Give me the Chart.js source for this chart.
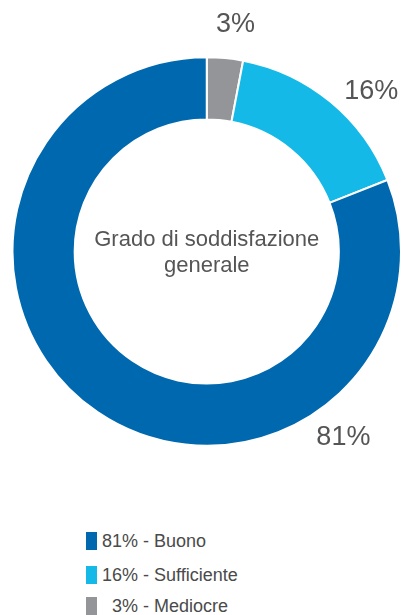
<!DOCTYPE html>
<html>
<head>
<meta charset="utf-8">
<script src="https://cdn.jsdelivr.net/npm/chart.js@4/dist/chart.umd.min.js"></script>
<style>
  body { margin: 0; background: #fff; font-family: "Liberation Sans", Arial, sans-serif; }
  #wrap { position: relative; width: 402px; height: 615px; overflow: hidden; }
  #legend { position: absolute; left: 86px; top: 532px; }
  .row { display: flex; align-items: center; height: 18px; margin-bottom: 16px; color: #4a4a4a; font-size: 18px; }
  .row:nth-child(2) { margin-bottom: 13px; }
  .box { width: 11px; height: 18px; margin-right: 4px; }
  .pct { display: inline-block; width: 37px; text-align: right; }
</style>
</head>
<body>
<div id="wrap">
  <canvas id="chart" width="402" height="480"></canvas>
  <div id="legend"></div>
</div>
<script>
// clockwise from the top
const categories = ['Mediocre', 'Sufficiente', 'Buono']
const values = [3, 16, 81]
const colors = ['#939598', '#14b9e8', '#0068af']
const centerText = ['Grado di soddisfazione', 'generale']

const ctx = document.getElementById('chart')

// percent labels outside the ring, angle in degrees from the top
const labelAngles = [7.2, 45.6, 143.6]
const outsideLabels = {
  id: 'outsideLabels',
  afterDraw(chart) {
    const c = chart.ctx
    const arcs = chart.getDatasetMeta(0).data
    c.save()
    c.fillStyle = '#555'
    c.font = '27px "Liberation Sans", Arial, sans-serif'
    c.textAlign = 'center'
    c.textBaseline = 'middle'
    arcs.forEach((arc, i) => {
      const a = labelAngles[i] * Math.PI / 180
      const r = arc.outerRadius + 36
      c.fillText(values[i] + '%', arc.x + Math.sin(a) * r, arc.y - Math.cos(a) * r + 1)
    })
    // centre text
    const a0 = arcs[0]
    c.font = '22px "Liberation Sans", Arial, sans-serif'
    c.fillText(centerText[0], a0.x, a0.y - 12)
    c.fillText(centerText[1], a0.x, a0.y + 14)
    c.restore()
  }
}

var myChart = new Chart(ctx, {
  type: 'doughnut',
  data: {
    labels: categories,
    datasets: [{
      data: values,
      backgroundColor: colors,
      borderColor: '#fff',
      borderWidth: 2
    }]
  },
  options: {
    responsive: false,
    animation: false,
    cutout: '68%',
    layout: { padding: { left: 11.5, right: 0, top: 56, bottom: 33 } },
    plugins: {
      legend: { display: false },
      tooltip: { enabled: false }
    }
  },
  plugins: [outsideLabels]
})

// legend, largest first
const legend = document.getElementById('legend')
for (let i = values.length - 1; i >= 0; i--) {
  const row = document.createElement('div')
  row.className = 'row'
  row.innerHTML = '<span class="box" style="background:' + colors[i] + '"></span>' +
    '<span class="pct">' + values[i] + '%</span>&nbsp;- ' + categories[i]
  legend.appendChild(row)
}
</script>
</body>
</html>
